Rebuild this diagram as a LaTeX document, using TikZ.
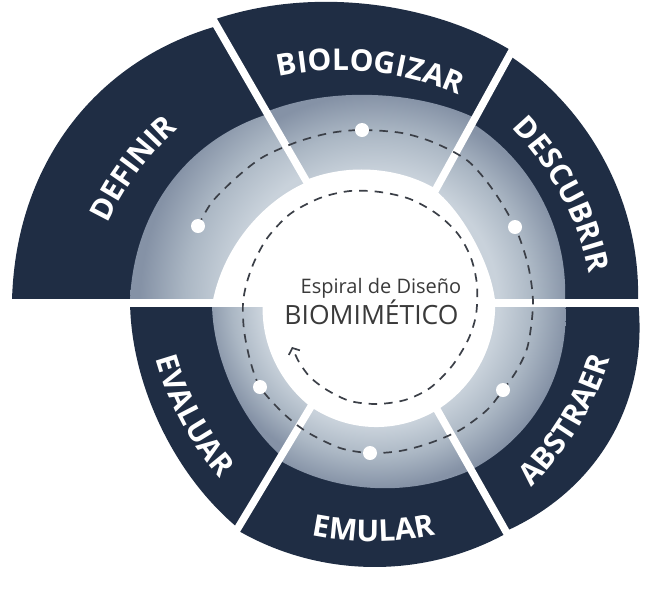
\documentclass[tikz,border=0pt]{standalone}
\usepackage{fontspec}
\setmainfont{Open Sans}
\usetikzlibrary{decorations.text,arrows.meta}
\definecolor{band}{HTML}{1F2D44}
\definecolor{ringL}{HTML}{C9D2DB}
\definecolor{ringM}{HTML}{ABB7C4}
\definecolor{ringD}{HTML}{8592A6}
\definecolor{dashc}{HTML}{3B3F47}
\definecolor{txtc}{HTML}{3A3A3A}
% radial shading on a circle of radius 260pt: 25bp = 260pt
\newcommand\mkringshade[4]{\pgfdeclareradialshading{#1}{\pgfpoint{0bp}{0bp}}{color(0bp)=(ringL); color(#2bp)=(ringL); color(#3bp)=(ringM); color(#4bp)=(ringD); color(50bp)=(ringD)}}
\mkringshade{shDEF}{13.9}{18.3}{22.6}
\mkringshade{shBIO}{12.3}{16.1}{19.8}
\mkringshade{shDES}{11.8}{15.3}{18.8}
\mkringshade{shABS}{11.9}{15.3}{18.7}
\mkringshade{shEMU}{12.2}{15.1}{18.1}
\mkringshade{shEVA}{11.1}{13.8}{16.5}
\newcommand\lblfont{\fontsize{30}{30}\selectfont\bfseries\color{white}}
\tikzset{
  bandfill/.style={fill=band},
  gapline/.style={white, line width=7.5pt},
  spiralline/.style={dashc, line width=1.7pt, dash pattern=on 8.5pt off 7pt},
  stagedot/.style={circle, fill=white, inner sep=0pt, minimum size=14pt},
  centertext/.style={text=txtc, anchor=base, inner sep=0pt},
  lblpath/.style={decorate, decoration={text along path, text align=center, text={|\lblfont|#1}}},
  % spiral boundary: angles #1 -> #2, radius #3 -> #4, bulge #5, about (375,300)
  spiralseg/.style n args={5}{insert path={plot[variable=\t, domain=#1:#2, samples=60]
    ({375+((#3)+((#4)-(#3))*(\t-(#1))/((#2)-(#1))+(#5)*sin(180*(\t-(#1))/((#2)-(#1))))*cos(\t)},
     {300-((#3)+((#4)-(#3))*(\t-(#1))/((#2)-(#1))+(#5)*sin(180*(\t-(#1))/((#2)-(#1))))*sin(\t)})}}
}
\begin{document}
\begin{tikzpicture}[x=1pt,y=-1pt]
\useasboundingbox (0,0) rectangle (670,598);
\coordinate (C) at (375,300);

% ---- DEFINIR
\fill[bandfill, spiralseg={180}{120}{363}{316.3}{11.6}] -- (C) -- cycle;
\begin{scope}
\clip[spiralseg={180}{120}{245}{214.6}{5.9}] -- (C) -- cycle;
\shade[shading=shDEF] (C) circle (260pt);
\end{scope}
\fill[white, spiralseg={180}{120}{162}{136.2}{-3}] -- (C) -- cycle;

% ---- BIOLOGIZAR
\fill[bandfill, spiralseg={120}{61.2}{323.5}{284.2}{-8.4}] -- (C) -- cycle;
\begin{scope}
\clip[spiralseg={120}{61.2}{217.3}{207.7}{-7.5}] -- (C) -- cycle;
\shade[shading=shBIO] (C) circle (260pt);
\end{scope}
\fill[white, spiralseg={120}{61.2}{138.4}{126.7}{-2.5}] -- (C) -- cycle;

% ---- DESCUBRIR
\fill[bandfill, spiralseg={61.2}{0}{278.9}{263}{-2.6}] -- (C) -- cycle;
\begin{scope}
\clip[spiralseg={61.2}{0}{201.8}{190}{-1}] -- (C) -- cycle;
\shade[shading=shDES] (C) circle (260pt);
\end{scope}
\fill[white, spiralseg={61.2}{0}{125.3}{120}{-7}] -- (C) -- cycle;

% ---- ABSTRAER
\fill[bandfill, spiralseg={0}{-60.5}{263}{265.6}{9}] -- (C) -- cycle;
\begin{scope}
\clip[spiralseg={0}{-60.5}{190}{195.2}{3.5}] -- (C) -- cycle;
\shade[shading=shABS] (C) circle (260pt);
\end{scope}
\fill[white, spiralseg={0}{-60.5}{120}{126.3}{0}] -- (C) -- cycle;

% ---- EMULAR
\fill[bandfill, spiralseg={-60.5}{-121}{267.8}{268.2}{-1}] -- (C) -- cycle;
\begin{scope}
\clip[spiralseg={-60.5}{-121}{195.2}{186.6}{-3}] -- (C) -- cycle;
\shade[shading=shEMU] (C) circle (260pt);
\end{scope}
\fill[white, spiralseg={-60.5}{-121}{126.3}{124.7}{1.5}] -- (C) -- cycle;

% ---- EVALUAR
\fill[bandfill, spiralseg={-121}{-180}{266}{245}{-7}] -- (C) -- cycle;
\begin{scope}
\clip[spiralseg={-121}{-180}{182.1}{163}{-5.5}] -- (C) -- cycle;
\shade[shading=shEVA] (C) circle (260pt);
\end{scope}
\fill[white, spiralseg={-121}{-180}{124.7}{112}{-1}] -- (C) -- cycle;

% ---- white gaps
\fill[white] (0,299) rectangle (670,307);
\draw[gapline] (C) -- ++(-120:420);
\draw[gapline] (C) -- ++(-61.2:420);
\draw[gapline] (C) -- ++(60.5:420);
\draw[gapline] (C) -- ++(121:420);

% ---- dashed spiral
\draw[spiralline, -{Straight Barb[length=5pt,width=12pt]}] plot[smooth] coordinates {
(198,226) (212,202) (237,177) (263,157) (297,142) (330,133) (362,130) (402,133) (435,143) (468,161) (493,190) (515,227) (528,265) (533,303) (528,345) (517,370) (503,390) (487,410) (460,430) (430,443) (400,451) (370,453) (340,448) (307,432) (283,413) (260,387) (250,360) (244,330) (243,303) (247,282) (255,260) (268,237) (290,214) (320,198) (350,191) (380,192) (410,199) (437,214) (458,234) (471,258) (477,285) (476,315) (468,340) (452,366) (430,388) (405,400) (377,404) (350,401) (327,390) (310,377) (299,362) (292,347)};

% ---- stage dots
\node[stagedot] (dDEF) at (198,226) {};
\node[stagedot] (dBIO) at (362,130) {};
\node[stagedot] (dDES) at (515,227) {};
\node[stagedot] (dABS) at (503,390) {};
\node[stagedot] (dEMU) at (370,453) {};
\node[stagedot] (dEVA) at (260,387) {};

% ---- labels
\path[lblpath=DEFINIR] plot[domain=183.4:103.4, samples=80] ({370.9+290*cos(\x)}, {345.4-290*sin(\x)});
\path[lblpath=BIOLOGIZAR] plot[domain=124.2:44.2, samples=80] ({341+290*cos(\x)}, {360.3-290*sin(\x)});
\path[lblpath=DESCUBRIR] plot[domain=68:-12, samples=80] ({304.7+290*cos(\x)}, {331.3-290*sin(\x)});
\path[lblpath=ABSTRAER] plot[domain=-71.56:8.44, samples=80] ({314.4+310*cos(\x)}, {265.6-310*sin(\x)});
\path[lblpath=EMULAR] plot[domain=-129.67:-49.67, samples=80] ({372+310*cos(\x)}, {231.7-310*sin(\x)});
\path[lblpath=EVALUAR] plot[domain=-191.6:-111.6, samples=80] ({454.3+310*cos(\x)}, {274.9-310*sin(\x)});

% ---- centre text
\node[centertext, font=\fontsize{20}{20}\selectfont] (t1) at (381,293) {Espiral de Diseño};
\node[centertext, font=\fontsize{26.5}{26.5}\selectfont] (t2) at (371.5,324) {BIOMIMÉTICO};
\end{tikzpicture}
\end{document}
